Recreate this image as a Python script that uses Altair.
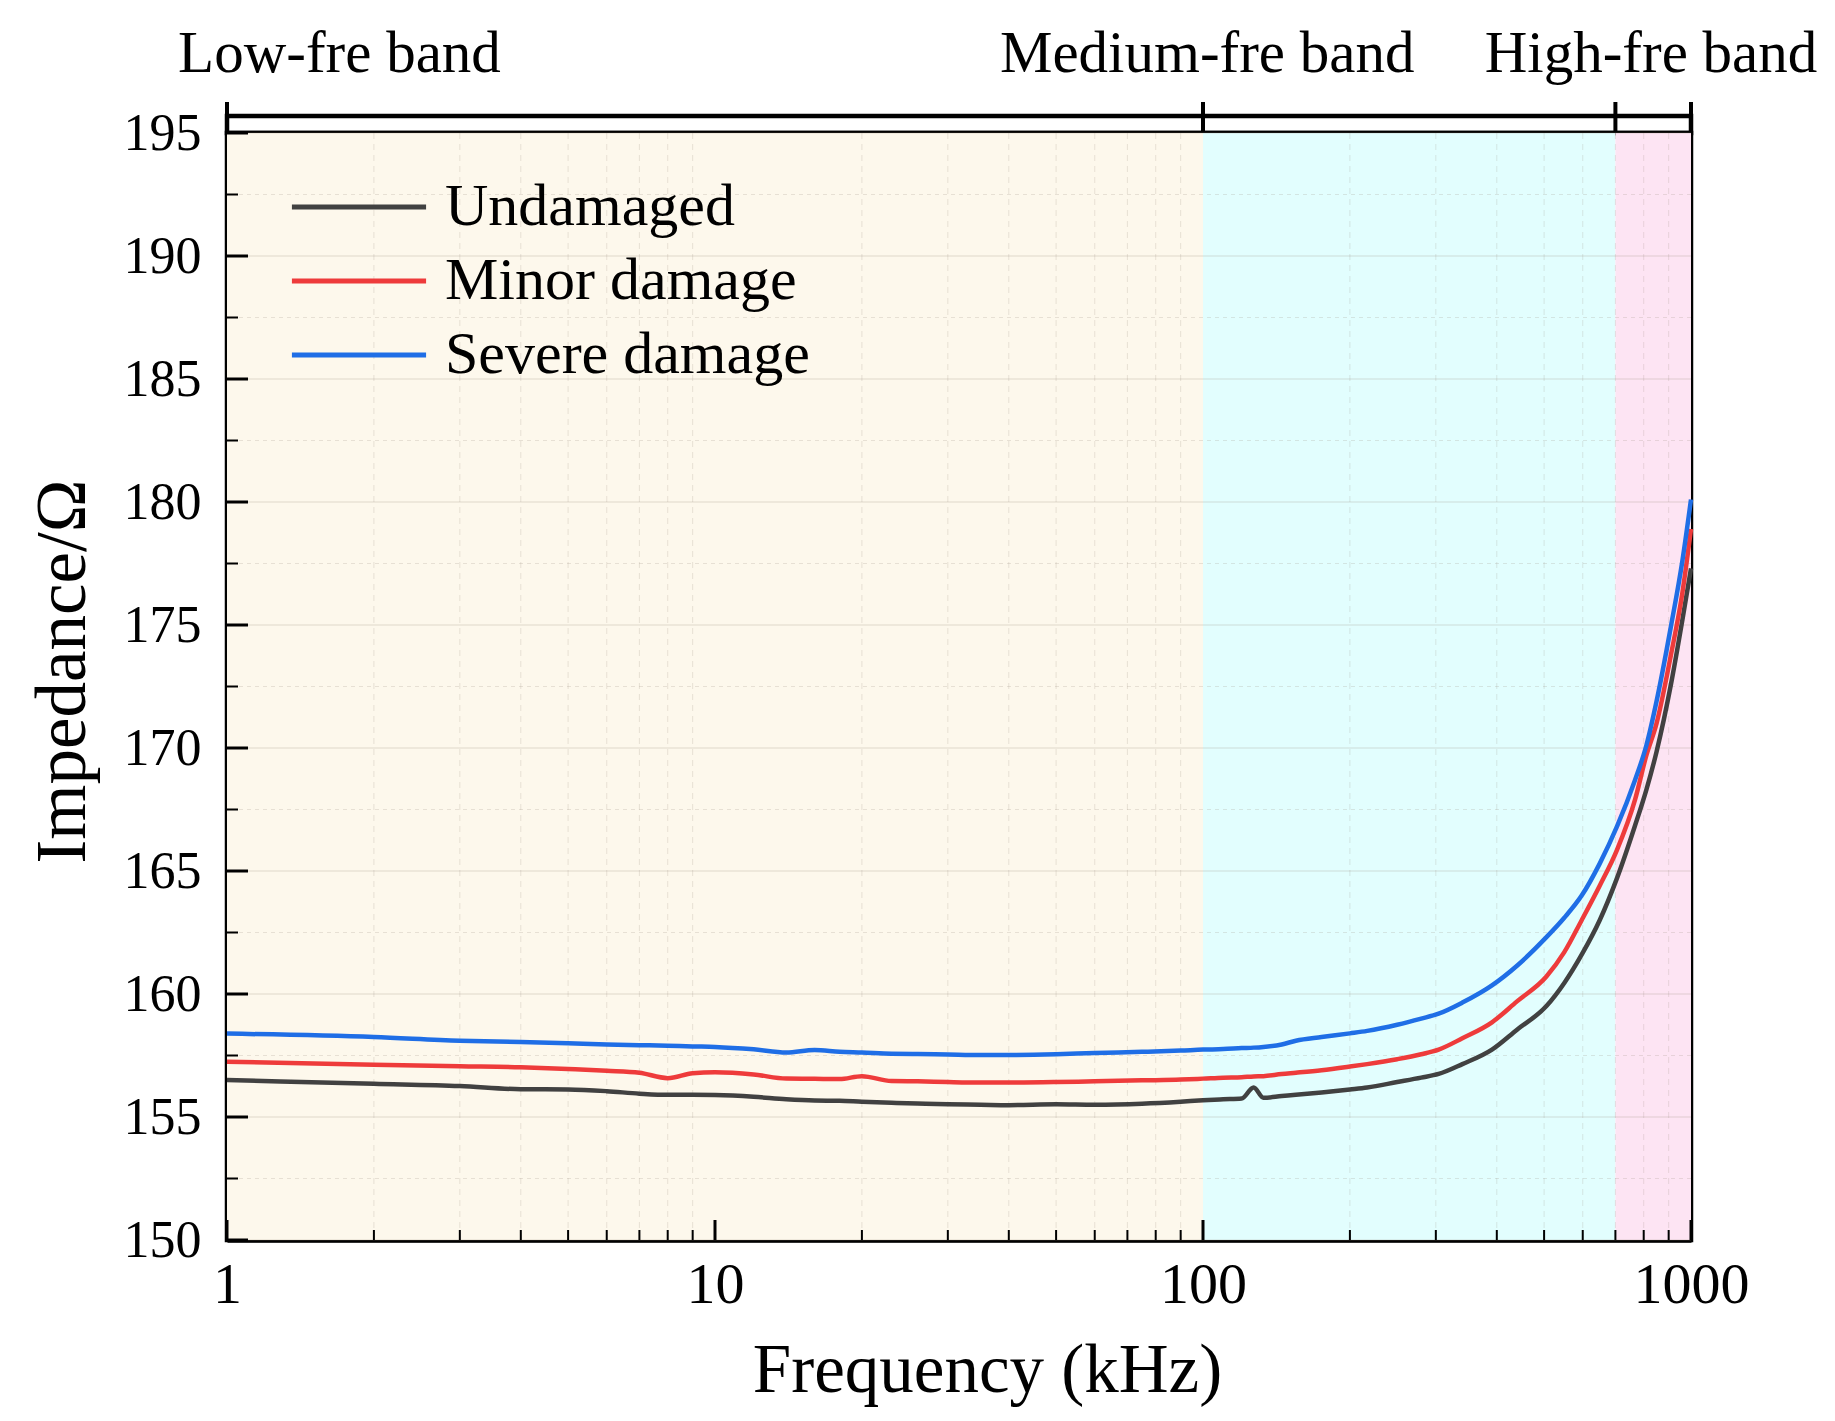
import altair as alt
import pandas as pd

# frequency grid (kHz) and impedance readings (Ohm)
freq_khz = [1, 2, 3, 4, 5, 6, 7, 8, 9, 10, 12, 14, 16, 18, 20, 23, 26, 30, 35, 40, 50, 60, 75, 90,
            100, 110, 120, 127, 133, 145, 155, 175, 200, 217, 250, 280, 304, 340, 391, 440, 505, 550,
            597, 650, 705, 768, 810, 850, 910, 960, 1000]
undamaged = [156.50, 156.35, 156.26, 156.13, 156.12, 156.05, 155.95, 155.90, 155.90, 155.89, 155.82,
             155.72, 155.67, 155.66, 155.62, 155.58, 155.55, 155.52, 155.50, 155.48, 155.52, 155.50,
             155.54, 155.62,
             155.68, 155.72, 155.75, 156.20, 155.78, 155.85, 155.90, 156.00, 156.12, 156.20, 156.42,
             156.60, 156.75, 157.15, 157.74, 158.55, 159.50, 160.45, 161.60, 163.00, 164.70, 166.85,
             168.30, 169.85, 172.60, 175.20, 177.30]
minor_damage = [157.25, 157.12, 157.06, 157.02, 156.95, 156.88, 156.80, 156.58, 156.78, 156.82, 156.73,
                156.56, 156.55, 156.54, 156.66, 156.46, 156.45, 156.42, 156.40, 156.40, 156.42, 156.45,
                156.49, 156.52,
                156.56, 156.60, 156.62, 156.65, 156.66, 156.75, 156.80, 156.90, 157.05, 157.15, 157.35,
                157.55, 157.74, 158.20, 158.85, 159.70, 160.70, 161.70, 163.00, 164.40, 165.85, 167.90,
                169.70, 171.00, 173.80, 176.30, 178.90]
severe_damage = [158.39, 158.25, 158.10, 158.05, 158.00, 157.95, 157.92, 157.90, 157.87, 157.85, 157.75,
                 157.62, 157.72, 157.65, 157.62, 157.57, 157.56, 157.54, 157.52, 157.52, 157.55, 157.60,
                 157.65, 157.70,
                 157.74, 157.76, 157.80, 157.82, 157.85, 157.95, 158.10, 158.25, 158.40, 158.50, 158.75,
                 159.00, 159.20, 159.65, 160.35, 161.15, 162.30, 163.10, 164.00, 165.30, 166.80, 168.70,
                 170.10, 171.90, 174.96, 177.60, 180.10]

series_names = ["Undamaged", "Minor damage", "Severe damage"]
series_colors = ["#414141", "#ee3b3b", "#1f6ee6"]

band_names = ["Low-fre band", "Medium-fre band", "High-fre band"]
band_start = [1, 100, 700]
band_end = [100, 700, 1000]
band_label_at = [1.7, 102, 828]
band_fill = ["#fdf8ec", "#e2fefe", "#fde4f3"]
band_edges = [1, 100, 700, 1000]

x_labels = [1, 10, 100, 1000]
x_minor = [2, 3, 4, 5, 6, 7, 8, 9, 20, 30, 40, 50, 60, 70, 80, 90,
           200, 300, 400, 500, 600, 700, 800, 900]
y_major = [150, 155, 160, 165, 170, 175, 180, 185, 190, 195]
y_minor = [152.5, 157.5, 162.5, 167.5, 172.5, 177.5, 182.5, 187.5, 192.5]

W, H = 1464, 1107
FONT = "Liberation Serif"

lines_df = pd.DataFrame({
    "freq": freq_khz * 3,
    "impedance": undamaged + minor_damage + severe_damage,
    "series": [n for n in series_names for _ in freq_khz],
})
bands_df = pd.DataFrame({"band": band_names, "start": band_start, "end": band_end,
                         "label_at": band_label_at, "fill": band_fill})
edges_df = pd.DataFrame({"edge": band_edges})

xscale = alt.Scale(type="log", domain=[1, 1000], nice=False)
yscale = alt.Scale(domain=[150, 195], nice=False, zero=False)
xaxis = alt.Axis(values=x_labels, format="d", ticks=False, grid=False, labelFlush=False,
                 domainColor="black", domainWidth=4.5,
                 labelFontSize=58, labelPadding=16, labelColor="black",
                 titleFontSize=69, titleFontWeight="normal", titlePadding=22, titleColor="black",
                 titleX=W / 2 + 28)
yaxis = alt.Axis(values=y_major, ticks=False, grid=False, labelFlush=False,
                 domainColor="black", domainWidth=4.5,
                 labelFontSize=52, labelPadding=26, labelColor="black",
                 titleFontSize=71, titleFontWeight="normal", titlePadding=24, titleColor="black",
                 titleY=538)
X = lambda f: alt.X(f, scale=xscale, axis=xaxis, title="Frequency (kHz)")
Y = lambda f: alt.Y(f, scale=yscale, axis=yaxis, title="Impedance/Ω")

bands = alt.Chart(bands_df).mark_rect().encode(
    x=X("start:Q"), x2="end:Q", fill=alt.Fill("fill:N", scale=None)
)

grid_color = "#9a8f80"
vgrid = alt.Chart(pd.DataFrame({"v": x_minor})).mark_rule(
    color=grid_color, opacity=0.22, strokeWidth=1, strokeDash=[6, 5]
).encode(x=X("v:Q"))
hgrid_major = alt.Chart(pd.DataFrame({"v": y_major})).mark_rule(
    color=grid_color, opacity=0.2, strokeWidth=1.5
).encode(y=Y("v:Q"))
hgrid_minor = alt.Chart(pd.DataFrame({"v": y_minor})).mark_rule(
    color=grid_color, opacity=0.22, strokeWidth=1, strokeDash=[4, 4]
).encode(y=Y("v:Q"))

lines = alt.Chart(lines_df).mark_line(strokeWidth=4.5, interpolate="monotone").encode(
    x=X("freq:Q"),
    y=Y("impedance:Q"),
    color=alt.Color("series:N", sort=series_names,
                    scale=alt.Scale(domain=series_names, range=series_colors),
                    legend=alt.Legend(orient="none", legendX=62, legendY=61, title=None,
                                      symbolType="stroke", symbolSize=18000, symbolStrokeWidth=5,
                                      labelFontSize=60, labelFont=FONT, labelColor="black",
                                      labelLimit=0, labelOffset=16, clipHeight=60,
                                      rowPadding=14, padding=0)),
)

# inward ticks
x_major_len = 20 / H * 45
x_minor_len = 10 / H * 45
y_major_len = 10 ** (21 / W * 3)
y_minor_len = 10 ** (11 / W * 3)
xt_major = alt.Chart(pd.DataFrame({"v": x_labels, "y0": 150, "y1": 150 + x_major_len})).mark_rule(
    color="black", strokeWidth=3).encode(x=X("v:Q"), y=Y("y0:Q"), y2="y1:Q")
xt_minor = alt.Chart(pd.DataFrame({"v": x_minor, "y0": 150, "y1": 150 + x_minor_len})).mark_rule(
    color="black", strokeWidth=2).encode(x=X("v:Q"), y=Y("y0:Q"), y2="y1:Q")
yt_major = alt.Chart(pd.DataFrame({"v": y_major, "x0": 1, "x1": y_major_len})).mark_rule(
    color="black", strokeWidth=3).encode(y=Y("v:Q"), x=X("x0:Q"), x2="x1:Q")
yt_minor = alt.Chart(pd.DataFrame({"v": y_minor, "x0": 1, "x1": y_minor_len})).mark_rule(
    color="black", strokeWidth=2).encode(y=Y("v:Q"), x=X("x0:Q"), x2="x1:Q")

main = alt.layer(bands, vgrid, hgrid_minor, hgrid_major, lines,
                 xt_major, xt_minor, yt_major, yt_minor).properties(width=W, height=H)

# band strip above the plot
sx = alt.X("edge:Q", scale=xscale, axis=None)
dividers = alt.Chart(edges_df).mark_rule(color="black", strokeWidth=4).encode(
    x=sx, y=alt.value(-14), y2=alt.value(17)
)
band_labels = alt.Chart(bands_df).mark_text(font=FONT, fontSize=59, baseline="middle",
                                             color="black").encode(
    x=alt.X("label_at:Q", scale=xscale, axis=None), y=alt.value(-62), text="band:N"
)
strip = alt.layer(dividers, band_labels).properties(width=W, height=17)

chart = (
    alt.vconcat(strip, main, spacing=0, bounds="flush")
    .properties(padding={"left": 16, "top": 14, "right": 5, "bottom": 5})
    .configure_view(stroke="black", strokeWidth=4.5)
    .configure_axis(labelFont=FONT, titleFont=FONT)
    .configure_legend(labelFont=FONT)
)

chart.save("out.html", embed_options={"renderer": "svg", "actions": False})
